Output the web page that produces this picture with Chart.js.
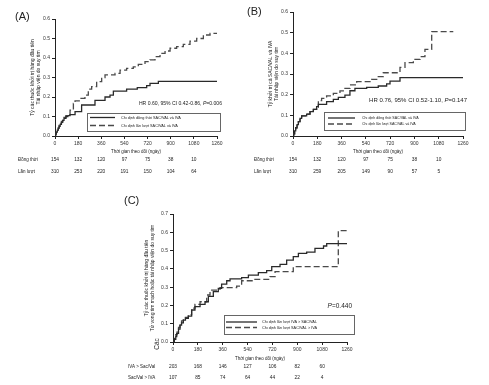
<!DOCTYPE html>
<html>
<head>
<meta charset="utf-8">
<script src="https://cdn.jsdelivr.net/npm/chart.js@4.4.1/dist/chart.umd.min.js"></script>
<style>
  body { margin: 0; background: #fff; width: 489px; height: 385px; overflow: hidden; position: relative; }
  canvas { position: absolute; }
</style>
</head>
<body>
<canvas id="chartA" width="245" height="185" style="left:0;top:0;width:245px;height:185px"></canvas>
<canvas id="chartB" width="244" height="185" style="left:245px;top:0;width:244px;height:185px"></canvas>
<canvas id="chartC" width="280" height="195" style="left:100px;top:190px;width:280px;height:195px"></canvas>
<script>
// x ticks / risk table days
const xTicks = [0, 180, 360, 540, 720, 900, 1080, 1260];
const riskDays = [0, 180, 360, 540, 720, 900, 1080];

// panel A
const aConcDays = [0, 5, 10, 18, 25, 32, 40, 50, 60, 70, 85, 100, 117, 156, 207, 311, 389, 428, 454, 557, 640, 713, 739, 804, 1260];
const aConcRate = [0, .01, .02, .03, .04, .05, .06, .07, .08, .09, .1, .105, .11, .125, .159, .183, .2, .21, .23, .24, .248, .258, .27, .28, .28];
const aSeqDays = [0, 5, 10, 18, 25, 32, 40, 50, 60, 70, 85, 117, 143, 156, 195, 233, 259, 285, 324, 363, 389, 467, 506, 557, 609, 648, 700, 739, 778, 817, 856, 895, 946, 998, 1050, 1102, 1154, 1206, 1260];
const aSeqRate = [0, .01, .02, .03, .04, .055, .065, .075, .085, .095, .105, .133, .167, .18, .193, .21, .24, .253, .279, .3, .313, .321, .338, .347, .355, .367, .381, .39, .407, .424, .436, .45, .458, .47, .487, .5, .518, .526, .526];
const aRiskConc = [154, 132, 120, 97, 75, 38, 10];
const aRiskSeq = [310, 253, 220, 191, 150, 104, 64];

// panel B
const bConcDays = [0, 5, 12, 20, 30, 40, 52, 64, 101, 126, 151, 175, 188, 249, 299, 336, 385, 422, 459, 546, 632, 694, 719, 793, 1260];
const bConcRate = [0, .01, .025, .04, .055, .07, .085, .097, .106, .118, .129, .142, .153, .166, .177, .187, .198, .219, .23, .235, .242, .252, .266, .282, .282];
const bSeqDays = [0, 5, 12, 20, 30, 40, 52, 64, 101, 126, 151, 175, 188, 212, 249, 299, 348, 385, 422, 472, 583, 632, 669, 793, 830, 892, 941, 978, 1028, 1188];
const bSeqRate = [0, .01, .025, .04, .055, .07, .085, .097, .106, .118, .129, .14, .171, .182, .194, .206, .218, .23, .247, .263, .274, .287, .306, .332, .355, .371, .384, .419, .505, .505];
const bRiskConc = [154, 132, 120, 97, 75, 38, 10];
const bRiskSeq = [310, 259, 205, 149, 90, 57, 5];

// panel C
const cIvaDays = [0, 10, 20, 27, 40, 51, 62, 75, 90, 111, 135, 159, 196, 232, 256, 292, 328, 352, 389, 413, 497, 546, 618, 678, 715, 775, 823, 871, 908, 968, 1028, 1090, 1113, 1260];
const cIvaRate = [0, .015, .03, .047, .07, .093, .105, .12, .13, .142, .175, .193, .206, .22, .25, .275, .293, .317, .335, .345, .352, .366, .379, .39, .412, .425, .448, .467, .485, .492, .512, .525, .538, .538];
const cSacDays = [0, 10, 20, 30, 40, 50, 62, 75, 90, 111, 135, 159, 196, 244, 268, 340, 461, 497, 582, 703, 739, 871, 1197, 1260];
const cSacRate = [0, .02, .04, .06, .08, .1, .115, .125, .135, .15, .185, .206, .22, .257, .284, .297, .306, .335, .343, .357, .385, .412, .609, .609];
const cRiskIva = [203, 168, 146, 127, 106, 82, 60];
const cRiskSac = [107, 85, 74, 64, 44, 22, 4];

const FONT = '"Liberation Sans", Arial, sans-serif';

const toPoints = (days, rate) => days.map((d, i) => ({ x: d, y: rate[i] }));

// draws legend box, note, panel letter and risk table
const panelDecor = {
  id: 'panelDecor',
  afterDraw(chart, args, o) {
    const ctx = chart.ctx;
    const xs = chart.scales.x;
    ctx.save();
    ctx.fillStyle = '#222';
    ctx.textBaseline = 'middle';

    ctx.font = '11px ' + FONT;
    ctx.textAlign = 'left';
    ctx.fillText(o.letter, o.letterPos[0], o.letterPos[1]);

    // note, with italic P
    const size = o.noteSize;
    const parts = [[o.note[0], size + 'px ' + FONT], [o.note[1], 'italic ' + size + 'px ' + FONT], [o.note[2], size + 'px ' + FONT]];
    let total = 0;
    parts.forEach(p => { ctx.font = p[1]; total += ctx.measureText(p[0]).width; });
    let nx = o.notePos[0] - total;
    parts.forEach(p => { ctx.font = p[1]; ctx.fillText(p[0], nx, o.notePos[1]); nx += ctx.measureText(p[0]).width; });

    // legend
    const b = o.box;
    ctx.strokeStyle = '#666';
    ctx.lineWidth = 1;
    ctx.strokeRect(b[0] + 0.5, b[1] + 0.5, b[2], b[3]);
    ctx.font = o.legendSize + 'px ' + FONT;
    chart.data.datasets.forEach((ds, i) => {
      const y = o.legendY[i];
      ctx.beginPath();
      ctx.setLineDash(ds.borderDash || []);
      ctx.strokeStyle = ds.borderColor;
      ctx.lineWidth = ds.borderWidth;
      ctx.moveTo(o.sample[0], y);
      ctx.lineTo(o.sample[1], y);
      ctx.stroke();
      ctx.setLineDash([]);
      ctx.fillText(ds.label, o.sample[2], y);
    });

    // risk table
    o.rows.forEach((row, r) => {
      const y = o.rowY[r];
      ctx.font = '4.5px ' + FONT;
      ctx.textAlign = 'left';
      ctx.fillText(row.name, o.rowX, y);
      ctx.textAlign = 'center';
      ctx.font = '4.8px ' + FONT;
      row.values.forEach((v, i) => ctx.fillText(String(v), xs.getPixelForValue(riskDays[i]), y));
    });

    if (o.extra) {
      ctx.save();
      ctx.translate(o.extra.pos[0], o.extra.pos[1]);
      ctx.rotate(-Math.PI / 2);
      ctx.font = '6.5px ' + FONT;
      ctx.textAlign = 'center';
      ctx.fillText(o.extra.text, 0, 0);
      ctx.restore();
    }
    ctx.restore();
  }
};

function makePanel(id, cfg) {
  new Chart(document.getElementById(id), {
    type: 'line',
    data: {
      datasets: [
        {
          label: cfg.labels[0],
          data: cfg.solid,
          stepped: 'before',
          borderColor: '#2a2a2a',
          borderWidth: 1.3,
          pointRadius: 0,
          fill: false
        },
        {
          label: cfg.labels[1],
          data: cfg.dashed,
          stepped: 'before',
          borderColor: '#4a4a4a',
          borderWidth: 1.3,
          borderDash: [6, 3],
          pointRadius: 0,
          fill: false
        }
      ]
    },
    options: {
      responsive: false,
      animation: false,
      layout: { padding: cfg.padding },
      plugins: {
        legend: { display: false },
        tooltip: { enabled: false },
        panelDecor: cfg.decor
      },
      scales: {
        x: {
          type: 'linear',
          min: 0,
          max: 1260,
          afterBuildTicks: s => { s.ticks = xTicks.map(v => ({ value: v })); },
          afterFit: s => { s.height = 22; },
          grid: { drawOnChartArea: false, color: '#222', tickLength: 3 },
          border: { color: '#222', width: 1 },
          ticks: { font: { family: FONT, size: 5 }, color: '#333', padding: 1.5, maxRotation: 0, autoSkip: false, callback: v => String(v) },
          title: { display: true, text: 'Thời gian theo dõi (ngày)', font: { family: FONT, size: 4.5 }, color: '#222', padding: { top: 0, bottom: cfg.xTitlePad } }
        },
        y: {
          min: 0,
          max: cfg.yMax,
          afterFit: s => { s.width = cfg.yWidth; },
          grid: { drawOnChartArea: false, color: '#222', tickLength: 3 },
          border: { color: '#222', width: 1 },
          ticks: { stepSize: 0.1, font: { family: FONT, size: 5 }, color: '#333', padding: 2, callback: v => v.toFixed(1) },
          title: { display: true, text: cfg.yTitle, font: { family: FONT, size: 5, lineHeight: 1.1 }, color: '#222', padding: { top: cfg.yTitlePad, bottom: 0 } }
        }
      }
    },
    plugins: [panelDecor]
  });
}

makePanel('chartA', {
  labels: ['Chỉ định đồng thời SAC/VAL và IVA', 'Chỉ định lần lượt SAC/VAL và IVA'],
  solid: toPoints(aConcDays, aConcRate),
  dashed: toPoints(aSeqDays, aSeqRate),
  padding: { left: 0, top: 19, right: 28, bottom: 27 },
  yWidth: 55, yMax: 0.6, yTitlePad: 30, xTitlePad: 3.5,
  yTitle: ['Tỷ các thuốc khởi trị hàng đầu tiên', 'Tái nhập viện do suy tim'],
  decor: {
    letter: '(A)', letterPos: [15, 17],
    note: ['HR 0.60, 95% CI 0.42-0.86, ', 'P', '=0.006'], noteSize: 5.1, notePos: [222, 104],
    box: [87, 113, 133, 18], legendY: [117.5, 125.5], sample: [90, 115, 121], legendSize: 3.8,
    rows: [{ name: 'Đồng thời', values: aRiskConc }, { name: 'Lần lượt', values: aRiskSeq }],
    rowX: 18, rowY: [160, 172]
  }
});

makePanel('chartB', {
  labels: ['Chỉ định đồng thời SAC/VAL và IVA', 'Chỉ định lần lượt SAC/VAL và IVA'],
  solid: toPoints(bConcDays, bConcRate),
  dashed: toPoints(bSeqDays, bSeqRate),
  padding: { left: 0, top: 12, right: 26, bottom: 27 },
  yWidth: 48, yMax: 0.6, yTitlePad: 23, xTitlePad: 3.5,
  yTitle: ['Tỷ khởi trị cả SAC/VAL và IVA', 'Tái nhập viện do suy tim'],
  decor: {
    letter: '(B)', letterPos: [2, 12],
    note: ['HR 0.76, 95% CI 0.52-1.10, ', 'P', '=0.147'], noteSize: 6, notePos: [222, 100],
    box: [79, 112, 141, 18], legendY: [118, 124], sample: [83, 110, 117], legendSize: 3.6,
    rows: [{ name: 'Đồng thời', values: bRiskConc }, { name: 'Lần lượt', values: bRiskSeq }],
    rowX: 9, rowY: [160, 172]
  }
});

makePanel('chartC', {
  labels: ['Chỉ định lần lượt IVA > SAC/VAL', 'Chỉ định lần lượt SAC/VAL > IVA'],
  solid: toPoints(cIvaDays, cIvaRate),
  dashed: toPoints(cSacDays, cSacRate),
  padding: { left: 0, top: 24, right: 33, bottom: 21 },
  yWidth: 73, yMax: 0.7, yTitlePad: 44, xTitlePad: 2.5,
  yTitle: ['Tỷ các thuốc khởi trị hàng đầu tiên', 'Tử vong tim mạch hoặc tái nhập viện do suy tim'],
  decor: {
    letter: '(C)', letterPos: [24, 11],
    note: ['', 'P', '=0.440'], noteSize: 6.5, notePos: [252, 116],
    box: [124, 125, 130, 19], legendY: [132, 137.5], sample: [126, 157, 162], legendSize: 3.8,
    rows: [{ name: 'IVA > Sac/Val', values: cRiskIva }, { name: 'Sac/Val > IVA', values: cRiskSac }],
    rowX: 28, rowY: [177, 188],
    extra: { text: 'Các', pos: [57, 154] }
  }
});
</script>
</body>
</html>
